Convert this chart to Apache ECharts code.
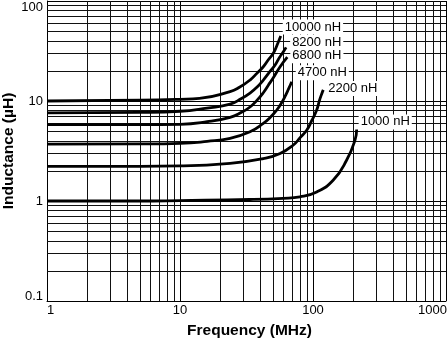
<!DOCTYPE html>
<html>
<head>
<meta charset="utf-8">
<script src="https://cdn.jsdelivr.net/npm/echarts@6/dist/echarts.min.js"></script>
<style>
html, body { margin: 0; padding: 0; background: #fff; }
#chart { width: 448px; height: 342px; }
</style>
</head>
<body>
<div id="chart"></div>
<script>
// Inductance vs frequency for each inductor value (log–log)
const seriesNames = ['10000 nH', '8200 nH', '6800 nH', '4700 nH', '2200 nH', '1000 nH'];

const freq10000 = [1, 5, 10, 14, 23.8, 28, 33.6, 38, 42.3, 46, 50.3, 54, 57.2];
const ind10000  = [10.0, 10.2, 10.4, 10.6, 12.4, 13.7, 16.2, 19.0, 22.0, 25.7, 30.0, 37.0, 44.7];

const freq8200 = [1, 5, 10, 16, 23.8, 29, 33.6, 38, 42.3, 47, 51.9, 56, 59.7, 62.8];
const ind8200  = [7.6, 7.7, 7.9, 8.5, 9.3, 10.6, 12.0, 13.8, 16.2, 19.4, 22.9, 27.3, 30.9, 34.4];

const freq6800 = [1, 5, 10, 16, 23.8, 29, 33.6, 38, 42.3, 46, 50.3, 56.6, 64.1];
const ind6800  = [5.8, 5.8, 5.85, 6.2, 6.87, 7.7, 8.71, 10.2, 12.1, 14.3, 17.1, 22.0, 27.4];

const freq4700 = [1, 5, 10, 16, 23.8, 33.6, 42.3, 48, 53.4, 57.5, 61.4, 65.5, 69.2];
const ind4700  = [3.7, 3.72, 3.77, 3.95, 4.24, 4.93, 5.98, 6.9, 8.13, 9.4, 11.0, 13.2, 15.6];

const freq2200 = [1, 5, 10, 23.8, 42.3, 56.6, 71.2, 80, 89.9, 98, 106.6, 112, 116.6, 119.5];
const ind2200  = [2.22, 2.22, 2.24, 2.38, 2.66, 2.99, 3.63, 4.3, 5.13, 6.4, 8.13, 10.2, 11.9, 12.9];

const freq1000 = [1, 5, 10, 33.6, 59.5, 79.8, 106.6, 142.2, 179.2, 206.9, 212.9];
const ind1000  = [1.0, 1.0, 1.01, 1.035, 1.064, 1.10, 1.23, 1.62, 2.57, 4.07, 5.2];

const freqSets = [freq10000, freq8200, freq6800, freq4700, freq2200, freq1000];
const indSets  = [ind10000, ind8200, ind6800, ind4700, ind2200, ind1000];

// axis tick labels and minor grid positions
const xTickLabels = ['1', '10', '100', '1000'];
const yTickLabels = ['0.1', '1', '10', '100'];
const xMinor = [2, 3, 4, 5, 6, 7, 8, 9, 20, 30, 40, 50, 60, 70, 80, 90, 200, 300, 400, 500, 600, 700, 800, 900];
const yMinor = [0.2, 0.3, 0.4, 0.5, 0.6, 0.7, 0.8, 0.9, 2, 3, 4, 5, 6, 7, 8, 9, 20, 30, 40, 50, 60, 70, 80, 90];

// label placement relative to each curve's end
const labelOffsets = [[2, -9], [4, -5], [3, -1.5], [4, -9], [3, -1.5], [2, -7.5]];

const FONT = '"Liberation Sans", Arial, Helvetica, sans-serif';

const chart = echarts.init(document.getElementById('chart'), null, { renderer: 'canvas' });

const curveSeries = seriesNames.map((name, i) => ({
  name: name,
  type: 'line',
  data: freqSets[i].map((f, j) => [f, indSets[i][j]]),
  showSymbol: false,
  smooth: 0.5,
  silent: true,
  z: 3,
  lineStyle: { color: '#000', width: 2.8 },
  endLabel: {
    show: true,
    formatter: name,
    distance: 0,
    offset: labelOffsets[i],
    color: '#000',
    fontFamily: FONT,
    fontSize: 13,
    backgroundColor: '#fff',
    padding: [1, 2]
  }
}));

const gridSeries = {
  name: 'minor-grid',
  type: 'line',
  data: [],
  silent: true,
  markLine: {
    silent: true,
    z: 1,
    symbol: ['none', 'none'],
    label: { show: false },
    emphasis: { disabled: true },
    animation: false,
    lineStyle: { color: '#111', width: 1, type: 'solid' },
    data: xMinor.map(v => ({ xAxis: v })).concat(yMinor.map(v => ({ yAxis: v })))
  }
};

const decadeIndex = v => Math.round(Math.log10(v));

chart.setOption({
  animation: false,
  backgroundColor: '#fff',
  grid: { left: 47, right: 2, top: 1, bottom: 41, containLabel: false, outerBoundsMode: 'none' },
  xAxis: {
    type: 'log',
    logBase: 10,
    min: 1,
    max: 1000,
    name: 'Frequency (MHz)',
    nameLocation: 'middle',
    nameGap: 22,
    nameMoveOverlap: false,
    nameTextStyle: { fontFamily: FONT, fontSize: 15.5, fontWeight: 'bold', color: '#000', padding: [0, 0, 0, 6] },
    axisLine: { show: true, lineStyle: { color: '#000', width: 1 } },
    axisTick: { show: false },
    splitLine: { show: true, lineStyle: { color: '#000', width: 1 } },
    axisLabel: {
      margin: 3,
      color: '#000',
      fontFamily: FONT,
      fontSize: 13,
      formatter: v => {
        const k = decadeIndex(v);
        const s = xTickLabels[k];
        if (k === 0) return '{first|' + s + '}';
        if (k === 3) return '{last|' + s + '}';
        return s;
      },
      rich: {
        first: { fontFamily: FONT, fontSize: 13, color: '#000', padding: [0, 0, 0, 7] },
        last: { fontFamily: FONT, fontSize: 13, color: '#000', padding: [0, 27, 0, 0] }
      }
    }
  },
  yAxis: {
    type: 'log',
    logBase: 10,
    min: 0.1,
    max: 100,
    name: 'Inductance (µH)',
    nameLocation: 'middle',
    nameGap: 30,
    nameMoveOverlap: false,
    nameTextStyle: { fontFamily: FONT, fontSize: 15.5, fontWeight: 'bold', color: '#000' },
    axisLine: { show: true, lineStyle: { color: '#000', width: 1 } },
    axisTick: { show: false },
    splitLine: { show: true, lineStyle: { color: '#000', width: 1 } },
    axisLabel: {
      margin: 4,
      color: '#000',
      fontFamily: FONT,
      fontSize: 13,
      formatter: v => {
        const k = decadeIndex(v) + 1;
        const s = yTickLabels[k];
        if (k === 3) return '{top|' + s + '}';
        if (k === 0) return '{bot|' + s + '}';
        return s;
      },
      rich: {
        top: { fontFamily: FONT, fontSize: 13, color: '#000', padding: [12, 0, 0, 0] },
        bot: { fontFamily: FONT, fontSize: 13, color: '#000', padding: [0, 0, 10, 0] }
      }
    }
  },
  series: [gridSeries].concat(curveSeries)
});
</script>
</body>
</html>
